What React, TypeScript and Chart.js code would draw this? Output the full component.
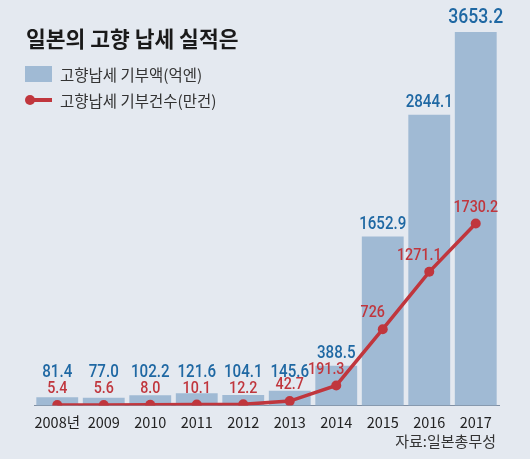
import React, { useEffect, useRef } from 'react';
import { Chart, registerables } from 'chart.js';

Chart.register(...registerables);

const categories = ['2008년', '2009', '2010', '2011', '2012', '2013', '2014', '2015', '2016', '2017'];
const donationAmount = [81.4, 77.0, 102.2, 121.6, 104.1, 145.6, 388.5, 1652.9, 2844.1, 3653.2];
const donationCount = [5.4, 5.6, 8.0, 10.1, 12.2, 42.7, 191.3, 726, 1271.1, 1730.2];
const amountLabels = ['81.4', '77.0', '102.2', '121.6', '104.1', '145.6', '388.5', '1652.9', '2844.1', '3653.2'];
const countLabels = ['5.4', '5.6', '8.0', '10.1', '12.2', '42.7', '191.3', '726', '1271.1', '1730.2'];

const BG = '#e4e9f0';
const BAR = '#a0bad4';
const RED = '#c0363d';
const BLUE = '#1f68a3';
const KFONT = "'Noto Sans CJK KR', 'Noto Sans', sans-serif";
const NUMFONT = "Roboto, 'Noto Sans', sans-serif";

function drawCondensed(ctx: any, text: string, x: number, y: number, sx: number) {
  ctx.save();
  ctx.translate(x, y);
  ctx.scale(sx, 1);
  ctx.fillText(text, 0, 0);
  ctx.restore();
}

const valueLabelPlugin = {
  id: 'valueLabels',
  afterDatasetsDraw(chart: any) {
    const ctx = chart.ctx;
    const bars = chart.getDatasetMeta(0).data;
    const pts = chart.getDatasetMeta(1).data;
    const base = chart.scales.y.getPixelForValue(0);
    ctx.save();
    ctx.textAlign = 'center';
    ctx.textBaseline = 'middle';
    bars.forEach((bar: any, i: number) => {
      const last = i === bars.length - 1;
      const y = Math.min(bar.y - (last ? 14 : 12), base - 33);
      ctx.font = `500 ${last ? 21 : 18}px ${NUMFONT}`;
      ctx.fillStyle = BLUE;
      drawCondensed(ctx, amountLabels[i], bar.x, y, 0.84);
    });
    pts.forEach((p: any, i: number) => {
      const next = pts[i + 1];
      const steep = next && p.y - next.y > 30;
      ctx.font = `500 17px ${NUMFONT}`;
      ctx.fillStyle = RED;
      drawCondensed(ctx, countLabels[i], p.x - (steep ? 10 : 0), p.y - 16, 0.84);
    });
    ctx.restore();
  },
};

export default function App() {
  const ref = useRef<HTMLCanvasElement>(null);
  useEffect(() => {
    if (!ref.current) return;
    const chart = new Chart(ref.current, {
      type: 'bar',
      data: {
        labels: categories,
        datasets: [
          {
            type: 'bar',
            label: '고향납세 기부액(억엔)',
            data: donationAmount,
            backgroundColor: BAR,
            borderWidth: 0,
            yAxisID: 'y',
            categoryPercentage: 1,
            barPercentage: 0.9,
            order: 2,
          },
          {
            type: 'line',
            label: '고향납세 기부건수(만건)',
            data: donationCount,
            borderColor: RED,
            backgroundColor: RED,
            borderWidth: 3.5,
            pointRadius: 5,
            pointBackgroundColor: RED,
            pointBorderWidth: 0,
            tension: 0,
            yAxisID: 'y2',
            order: 1,
          },
        ],
      },
      options: {
        responsive: false,
        animation: false,
        layout: { padding: { left: 34, right: 31, top: 32, bottom: 20 } },
        plugins: { legend: { display: false }, tooltip: { enabled: false }, title: { display: false } },
        scales: {
          x: {
            grid: { display: false, drawTicks: false },
            border: { display: true, color: '#7f8fa3', width: 1 },
            ticks: { color: '#222', font: { family: KFONT, size: 14.5 }, padding: 8, maxRotation: 0, autoSkip: false },
          },
          y: { display: false, min: 0, max: 3653.2 },
          y2: { display: false, min: 0, max: 3550 },
        },
      },
      plugins: [valueLabelPlugin],
    });
    return () => chart.destroy();
  }, []);

  return (
    <div style={{ position: 'absolute', left: 0, top: 0, width: 530, height: 459, background: BG, overflow: 'hidden', fontFamily: KFONT }}>
      <canvas ref={ref} width={530} height={459} style={{ position: 'absolute', left: 0, top: 0 }} />
      <div style={{ position: 'absolute', left: 26, top: 24, fontSize: 21.5, fontWeight: 700, lineHeight: '28px', color: '#1a1a1a', whiteSpace: 'nowrap' }}>
        일본의 고향 납세 실적은
      </div>
      <div style={{ position: 'absolute', left: 25, top: 66, width: 27, height: 16, background: BAR }} />
      <div style={{ position: 'absolute', left: 60, top: 63, fontSize: 15.5, lineHeight: '22px', color: '#333', whiteSpace: 'nowrap' }}>
        고향납세 기부액(억엔)
      </div>
      <div style={{ position: 'absolute', left: 27, top: 98, width: 25, height: 4, background: RED }} />
      <div style={{ position: 'absolute', left: 25, top: 95, width: 10, height: 10, borderRadius: 5, background: RED }} />
      <div style={{ position: 'absolute', left: 60, top: 89, fontSize: 15.5, lineHeight: '22px', color: '#333', whiteSpace: 'nowrap' }}>
        고향납세 기부건수(만건)
      </div>
      <div style={{ position: 'absolute', right: 34, top: 430, fontSize: 15, lineHeight: '22px', color: '#333', whiteSpace: 'nowrap' }}>
        자료:일본총무성
      </div>
    </div>
  );
}
